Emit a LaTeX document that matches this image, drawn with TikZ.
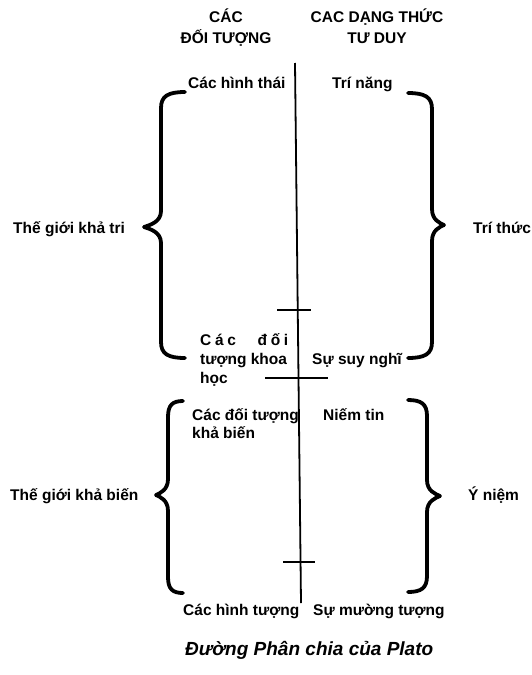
\documentclass[tikz,border=0pt]{standalone}
\usepackage{fontspec}
\setmainfont{Liberation Sans}
\newcommand\mybrace[6]{% end x, spine x, tip x, top y, mid y, bottom y
  \draw[brc] (#1,#4) .. controls ({#2+0.3*(#1-#2)},#4) and (#2,{#4+4}) .. (#2,{#4+16})
    -- (#2,{#5-16}) .. controls (#2,{#5-5}) and ({#3+0.35*(#2-#3)},{#5-2}) .. (#3,#5)
    .. controls ({#3+0.35*(#2-#3)},{#5+2}) and (#2,{#5+5}) .. (#2,{#5+16})
    -- (#2,{#6-16}) .. controls (#2,{#6-4}) and ({#2+0.3*(#1-#2)},#6) .. (#1,#6);}
\begin{document}
\begin{tikzpicture}[x=1pt,y=-1pt,
  lbl/.style={font=\fontsize{15.5}{19}\selectfont\bfseries, inner sep=0pt, anchor=base west},
  ttl/.style={font=\fontsize{15.5}{19}\selectfont\bfseries, inner sep=0pt, anchor=base},
  captionlbl/.style={font=\fontsize{19}{22}\selectfont\bfseries\itshape, inner sep=0pt, anchor=base west},
  brc/.style={line width=3.8pt, line cap=round, line join=round},
  rulel/.style={line width=1.8pt}]
\useasboundingbox (0,0) rectangle (532,675);
% titles
\node[ttl] (ta1) at (226,22) {CÁC};
\node[ttl] (ta2) at (226,43) {ĐỐI TƯỢNG};
\node[ttl] (tb1) at (377,22) {CAC DẠNG THỨC};
\node[ttl] (tb2) at (377,43) {TƯ DUY};
% dividing line
\coordinate (vt) at (295,63);
\coordinate (vb) at (301,603);
\draw[rulel] (vt) -- (vb);
\coordinate (k1l) at (277,310); \coordinate (k1r) at (311,310);
\draw[rulel] (k1l) -- (k1r);
\coordinate (k2l) at (265,378); \coordinate (k2r) at (328,378);
\draw[rulel] (k2l) -- (k2r);
\coordinate (k3l) at (283,562); \coordinate (k3r) at (315,562);
\draw[rulel] (k3l) -- (k3r);
% braces
\mybrace{185}{161}{144}{92}{227}{358}
\mybrace{408}{432}{444}{93}{225}{358}
\mybrace{183}{168}{156}{401}{495}{593}
\mybrace{408}{427}{440}{400}{496}{592}
% labels
\node[lbl] (a1) at (188,88) {Các hình thái};
\node[lbl] (b1) at (332,88) {Trí năng};
\node[lbl] (w1) at (13,233) {Thế giới khả tri};
\node[lbl] (k1) at (473,233) {Trí thức};
\node[lbl] (a2a) at (200,345) {\makebox[88pt][s]{C\hfill á\hfill c\hspace{18pt}\hfill đ\hfill ố\hfill i}};
\node[lbl] (a2b) at (200,364) {tượng khoa};
\node[lbl] (a2c) at (200,383) {học};
\node[lbl] (b2) at (312,364) {Sự suy nghĩ};
\node[lbl] (a3a) at (192,420) {Các đối tượng};
\node[lbl] (a3b) at (192,438) {khả biến};
\node[lbl] (b3) at (323,420) {Niếm tin};
\node[lbl] (w2) at (10,500) {Thế giới khả biến};
\node[lbl] (k2) at (468,500) {Ý niệm};
\node[lbl] (a4) at (183,615) {Các hình tượng};
\node[lbl] (b4) at (313,615) {Sự mường tượng};
\node[captionlbl] (c) at (185,655) {Đường Phân chia của Plato};
\end{tikzpicture}
\end{document}
